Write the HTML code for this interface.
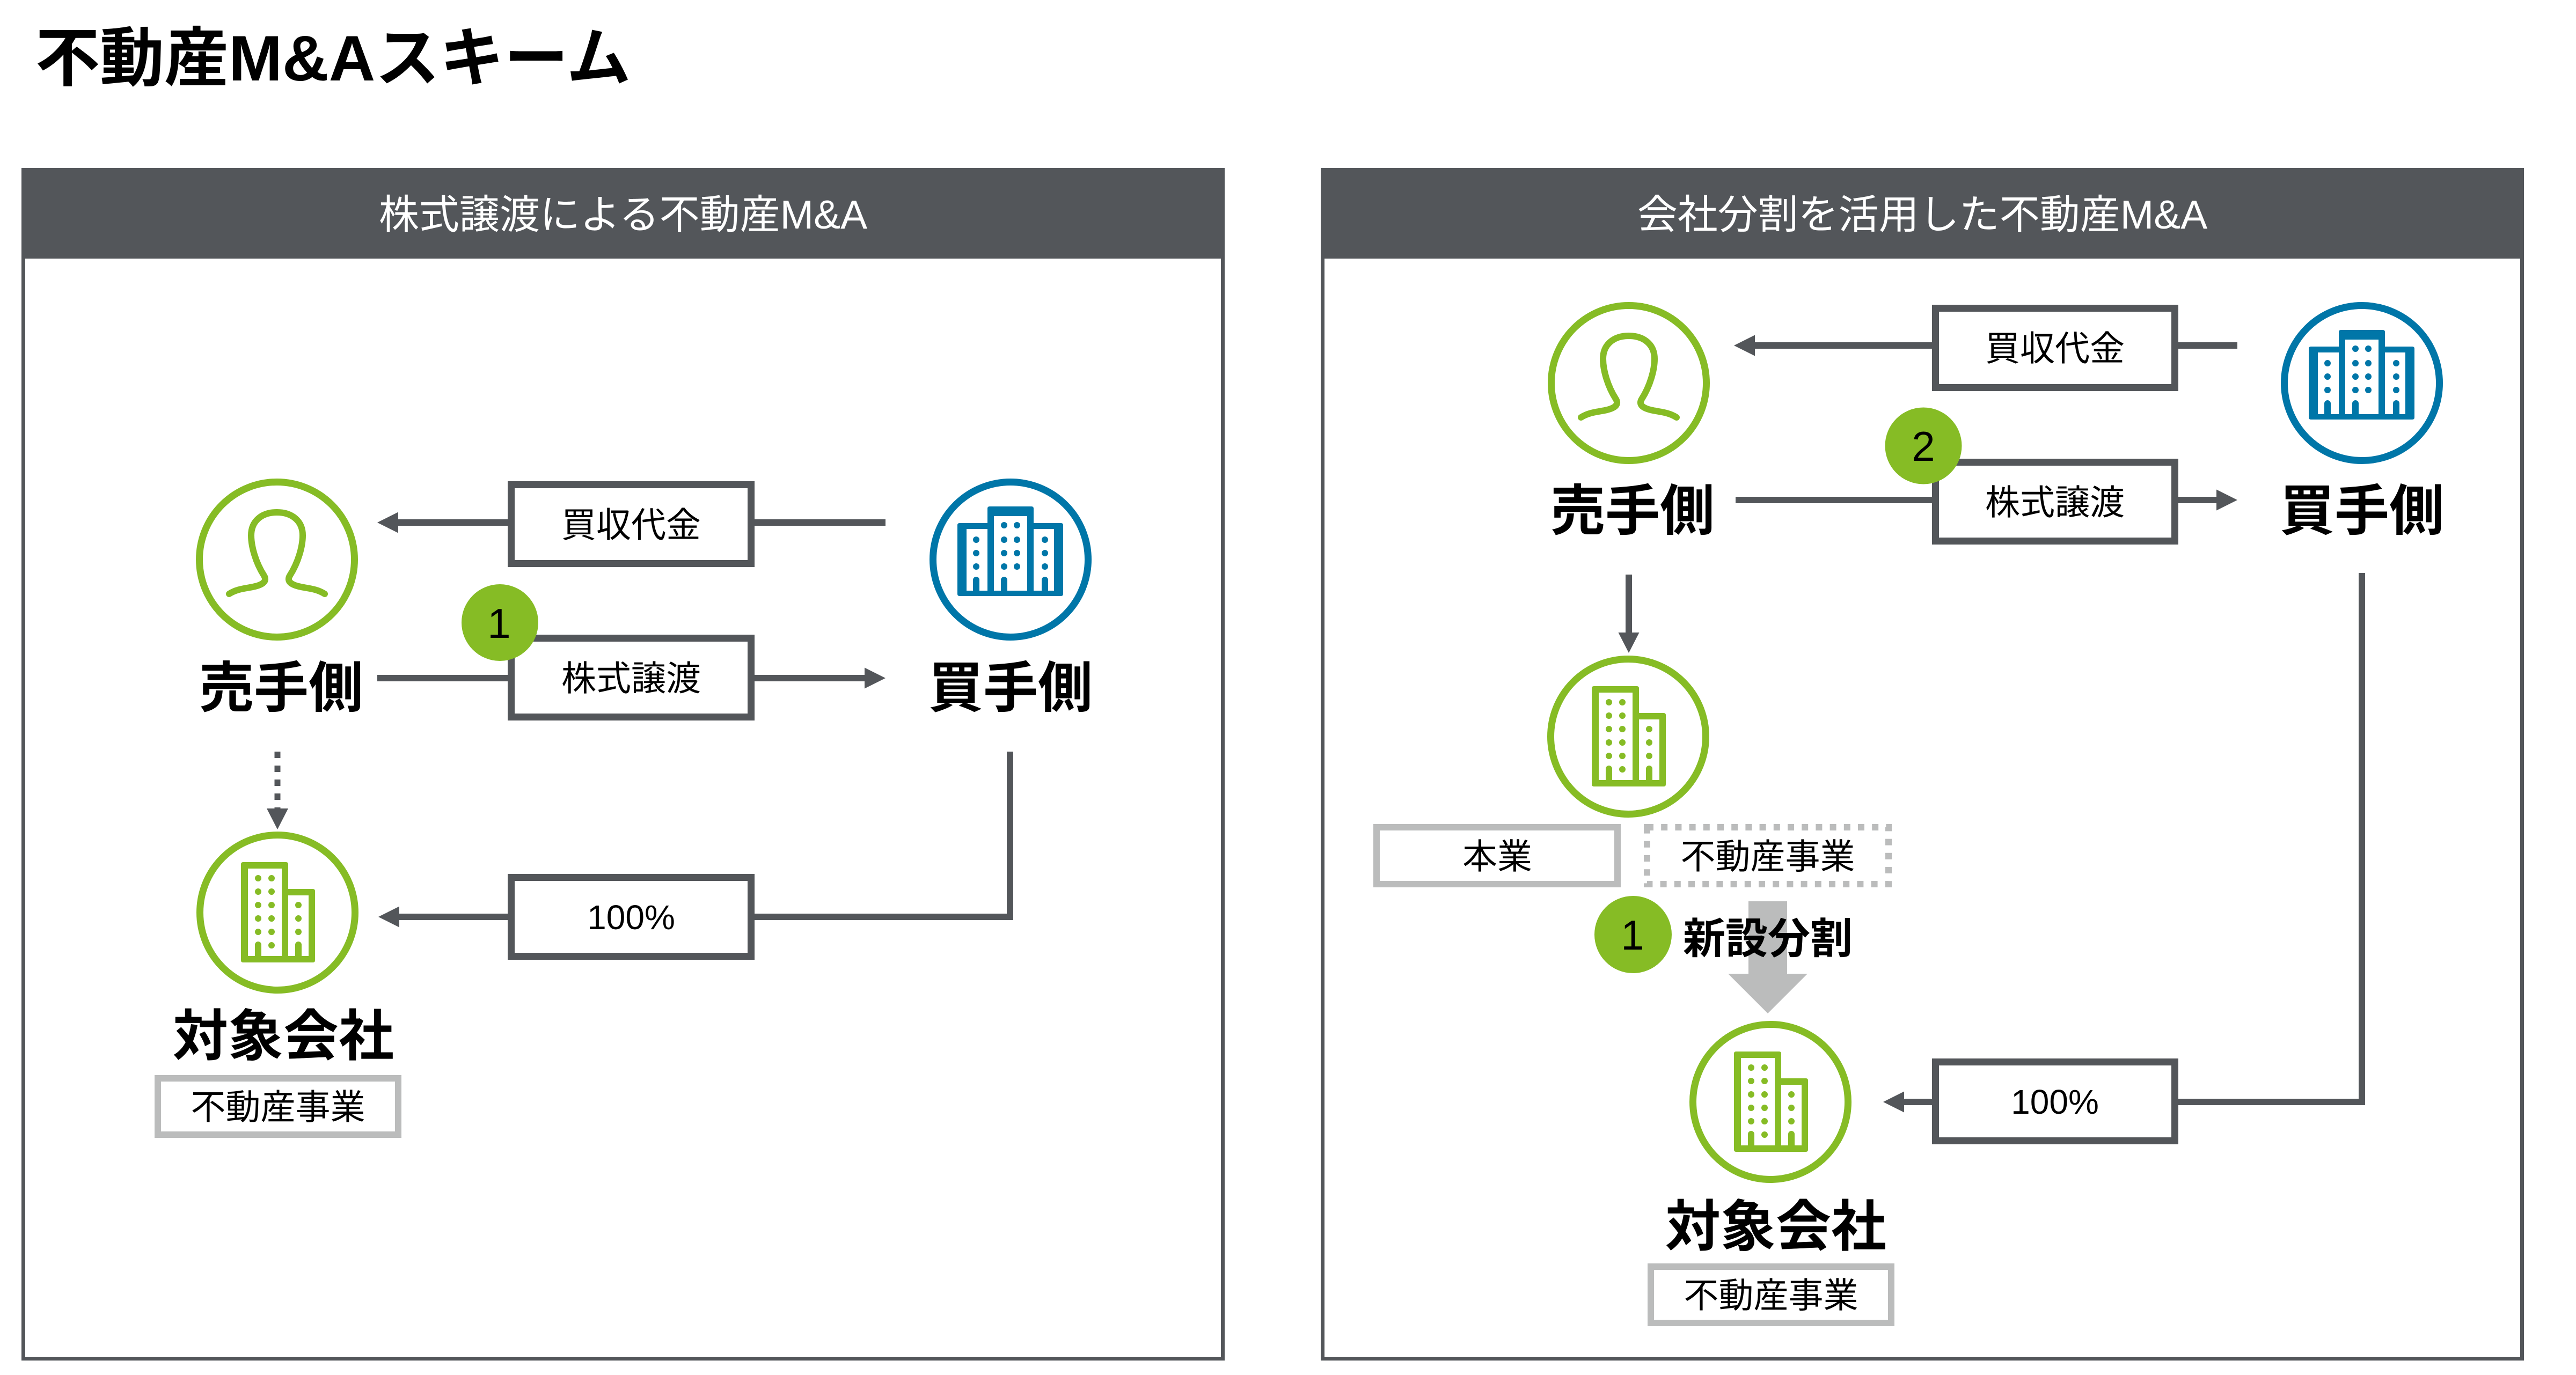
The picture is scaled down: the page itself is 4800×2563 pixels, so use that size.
<!DOCTYPE html>
<html>
<head>
<meta charset="utf-8">
<style>
  html,body{margin:0;padding:0;background:#fff;}
  svg{display:block;}
  text{font-family:"Liberation Sans","Noto Sans CJK JP",sans-serif;}
</style>
</head>
<body>
<svg width="4800" height="2563" viewBox="0 0 4800 2563" xmlns="http://www.w3.org/2000/svg">
  <defs>
    <g id="person">
      <path d="M-89 64 C-75 55,-60 54,-45 51 C-25 47,-18 40,-24 30 C-40 5,-48 -25,-48 -45 C-48 -72,-28 -88,0 -88 C28 -88,48 -72,48 -45 C48 -25,40 5,24 30 C18 40,25 47,45 51 C60 54,75 55,89 64" fill="none" stroke="#86bc25" stroke-width="12" stroke-linecap="round" stroke-linejoin="round"/>
    </g>
    <g id="bbld">
      <path fill="#0076a8" d="M-95 -68 H-43 V-95 Q-43 -99 -39 -99 H39 Q43 -99 43 -95 V-68 H94 Q98 -68 98 -64 V64 Q98 68 94 68 H-95 Q-99 68 -99 64 V-64 Q-99 -68 -95 -68 Z"/>
      <rect x="-82" y="-57" width="39" height="115" fill="#fff"/>
      <rect x="-31" y="-81" width="62" height="139" fill="#fff"/>
      <rect x="43" y="-57" width="38" height="115" fill="#fff"/>
      <g fill="#0076a8">
        <circle cx="-12" cy="-64" r="6"/><circle cx="12" cy="-64" r="6"/>
        <circle cx="-12" cy="-37" r="6"/><circle cx="12" cy="-37" r="6"/>
        <circle cx="-12" cy="-12" r="6"/><circle cx="12" cy="-12" r="6"/>
        <circle cx="-12" cy="13" r="6"/><circle cx="12" cy="13" r="6"/>
        <circle cx="-64" cy="-37" r="6"/><circle cx="-64" cy="-12" r="6"/><circle cx="-64" cy="13" r="6"/>
        <circle cx="64" cy="-37" r="6"/><circle cx="64" cy="-12" r="6"/><circle cx="64" cy="13" r="6"/>
        <path d="M-70 58 V38 a6 6 0 0 1 12 0 V58 Z"/>
        <path d="M-18 58 V38 a6 6 0 0 1 12 0 V58 Z"/>
        <path d="M58 58 V38 a6 6 0 0 1 12 0 V58 Z"/>
      </g>
    </g>
    <g id="gbld">
      <path fill="#86bc25" d="M-64 -94 H16 Q20 -94 20 -90 V-44 H66 Q70 -44 70 -40 V89 Q70 93 66 93 H-64 Q-68 93 -68 89 V-90 Q-68 -94 -64 -94 Z"/>
      <rect x="-55" y="-82" width="63" height="163" fill="#fff"/>
      <rect x="20" y="-32" width="38" height="113" fill="#fff"/>
      <g fill="#86bc25">
        <circle cx="-36" cy="-64" r="6"/><circle cx="-11" cy="-64" r="6"/>
        <circle cx="-36" cy="-39" r="6"/><circle cx="-11" cy="-39" r="6"/>
        <circle cx="-36" cy="-14" r="6"/><circle cx="-11" cy="-14" r="6"/>
        <circle cx="-36" cy="11" r="6"/><circle cx="-11" cy="11" r="6"/>
        <circle cx="-36" cy="36" r="6"/><circle cx="-11" cy="36" r="6"/>
        <circle cx="-11" cy="61" r="6"/>
        <circle cx="39" cy="-14" r="6"/><circle cx="39" cy="11" r="6"/><circle cx="39" cy="36" r="6"/>
        <path d="M-42 81 V60 a6 6 0 0 1 12 0 V81 Z"/>
        <path d="M33 81 V60 a6 6 0 0 1 12 0 V81 Z"/>
      </g>
    </g>
  </defs>

  <!-- Title -->
  <text x="66" y="150" font-size="120" font-weight="700" fill="#000">不動産M&amp;Aスキーム</text>

  <!-- ================= LEFT PANEL ================= -->
  <rect x="43.5" y="316.5" width="2235" height="2216" fill="none" stroke="#53565a" stroke-width="7"/>
  <rect x="40" y="313" width="2242" height="169" fill="#53565a"/>
  <text x="1161" y="426" font-size="75" fill="#fff" text-anchor="middle">株式譲渡による不動産M&amp;A</text>

  <!-- seller -->
  <circle cx="516" cy="1043" r="144.5" fill="#fff" stroke="#86bc25" stroke-width="13"/>
  <use href="#person" transform="translate(516,1043)"/>
  <text x="524" y="1318" font-size="102" font-weight="700" fill="#000" text-anchor="middle">売手側</text>

  <!-- buyer -->
  <circle cx="1883" cy="1043" r="144.5" fill="#fff" stroke="#0076a8" stroke-width="13"/>
  <use href="#bbld" transform="translate(1883,1043)"/>
  <text x="1883" y="1318" font-size="102" font-weight="700" fill="#000" text-anchor="middle">買手側</text>

  <!-- row 1 -->
  <line x1="740" y1="974" x2="946" y2="974" stroke="#53565a" stroke-width="12"/>
  <polygon points="703,974 742,954.5 742,993.5" fill="#53565a"/>
  <line x1="1406" y1="974" x2="1650" y2="974" stroke="#53565a" stroke-width="12"/>
  <rect x="952.5" y="903.5" width="447" height="147" fill="#fff" stroke="#53565a" stroke-width="13"/>
  <text x="1176" y="1001" font-size="65" fill="#000" text-anchor="middle">買収代金</text>

  <!-- row 2 -->
  <line x1="703" y1="1264" x2="946" y2="1264" stroke="#53565a" stroke-width="12"/>
  <line x1="1406" y1="1264" x2="1613" y2="1264" stroke="#53565a" stroke-width="12"/>
  <polygon points="1650,1264 1611,1244.5 1611,1283.5" fill="#53565a"/>
  <rect x="952.5" y="1189.5" width="447" height="147" fill="#fff" stroke="#53565a" stroke-width="13"/>
  <text x="1176" y="1287" font-size="65" fill="#000" text-anchor="middle">株式譲渡</text>
  <circle cx="931.5" cy="1160.5" r="71.5" fill="#86bc25"/>
  <text x="930" y="1189" font-size="78" fill="#000" text-anchor="middle">1</text>

  <!-- dashed arrow -->
  <line x1="517" y1="1401" x2="517" y2="1507" stroke="#53565a" stroke-width="11" stroke-dasharray="12 14"/>
  <polygon points="517,1546 497,1507 537,1507" fill="#53565a"/>

  <!-- buyer to target -->
  <path d="M1882 1401 V1709 H1406" fill="none" stroke="#53565a" stroke-width="12" stroke-linejoin="miter"/>
  <line x1="742" y1="1709" x2="946" y2="1709" stroke="#53565a" stroke-width="12"/>
  <polygon points="705,1709 744,1689.5 744,1728.5" fill="#53565a"/>
  <rect x="952.5" y="1635.5" width="447" height="147" fill="#fff" stroke="#53565a" stroke-width="13"/>
  <text x="1176" y="1732" font-size="64" fill="#000" text-anchor="middle">100%</text>

  <!-- target -->
  <circle cx="517" cy="1701" r="144.5" fill="#fff" stroke="#86bc25" stroke-width="13"/>
  <use href="#gbld" transform="translate(517,1701)"/>
  <text x="528" y="1967" font-size="103" font-weight="700" fill="#000" text-anchor="middle">対象会社</text>
  <rect x="294" y="2010" width="448" height="105" fill="#fff" stroke="#bbbcbc" stroke-width="12"/>
  <text x="518" y="2086" font-size="65" fill="#000" text-anchor="middle">不動産事業</text>

  <!-- ================= RIGHT PANEL ================= -->
  <rect x="2464.5" y="316.5" width="2235" height="2216" fill="none" stroke="#53565a" stroke-width="7"/>
  <rect x="2461" y="313" width="2242" height="169" fill="#53565a"/>
  <text x="3582" y="426" font-size="75" fill="#fff" text-anchor="middle">会社分割を活用した不動産M&amp;A</text>

  <!-- seller -->
  <circle cx="3035" cy="714" r="144.5" fill="#fff" stroke="#86bc25" stroke-width="13"/>
  <use href="#person" transform="translate(3035,714)"/>
  <text x="3042" y="988" font-size="102" font-weight="700" fill="#000" text-anchor="middle">売手側</text>

  <!-- buyer -->
  <circle cx="4401" cy="714" r="144.5" fill="#fff" stroke="#0076a8" stroke-width="13"/>
  <use href="#bbld" transform="translate(4401,714)"/>
  <text x="4401" y="988" font-size="102" font-weight="700" fill="#000" text-anchor="middle">買手側</text>

  <!-- row 1 -->
  <line x1="3268" y1="644" x2="3600" y2="644" stroke="#53565a" stroke-width="12"/>
  <polygon points="3231,644 3270,624.5 3270,663.5" fill="#53565a"/>
  <line x1="4059" y1="644" x2="4169" y2="644" stroke="#53565a" stroke-width="12"/>
  <rect x="3606.5" y="574.5" width="446" height="148" fill="#fff" stroke="#53565a" stroke-width="13"/>
  <text x="3829" y="672" font-size="65" fill="#000" text-anchor="middle">買収代金</text>

  <!-- row 2 -->
  <line x1="3234" y1="932" x2="3600" y2="932" stroke="#53565a" stroke-width="12"/>
  <line x1="4059" y1="932" x2="4132" y2="932" stroke="#53565a" stroke-width="12"/>
  <polygon points="4169,932 4130,912.5 4130,951.5" fill="#53565a"/>
  <rect x="3606.5" y="861.5" width="446" height="147" fill="#fff" stroke="#53565a" stroke-width="13"/>
  <text x="3829" y="959" font-size="65" fill="#000" text-anchor="middle">株式譲渡</text>
  <circle cx="3584" cy="831" r="71.5" fill="#86bc25"/>
  <text x="3584" y="859" font-size="78" fill="#000" text-anchor="middle">2</text>

  <!-- seller down arrow -->
  <line x1="3035" y1="1071" x2="3035" y2="1182" stroke="#53565a" stroke-width="12"/>
  <polygon points="3035,1217 3015.5,1179 3054.5,1179" fill="#53565a"/>

  <!-- source company -->
  <circle cx="3034" cy="1373" r="144.5" fill="#fff" stroke="#86bc25" stroke-width="13"/>
  <use href="#gbld" transform="translate(3034,1373)"/>

  <rect x="2565" y="1542" width="449" height="106" fill="#fff" stroke="#bbbcbc" stroke-width="12"/>
  <text x="2790" y="1619" font-size="65" fill="#000" text-anchor="middle">本業</text>
  <rect x="3069" y="1542" width="450" height="106" fill="#fff" stroke="#bbbcbc" stroke-width="12" stroke-dasharray="12 14.2"/>
  <text x="3294" y="1619" font-size="65" fill="#000" text-anchor="middle">不動産事業</text>

  <!-- split arrow -->
  <polygon points="3258,1680 3330,1680 3330,1815 3368,1815 3294,1889 3220,1815 3258,1815" fill="#bbbcbc"/>
  <circle cx="3043" cy="1742" r="72" fill="#86bc25"/>
  <text x="3042" y="1770" font-size="78" fill="#000" text-anchor="middle">1</text>
  <text x="3136" y="1777" font-size="79" font-weight="700" fill="#000">新設分割</text>

  <!-- buyer to target -->
  <path d="M4401 1068 V2054 H4059" fill="none" stroke="#53565a" stroke-width="12" stroke-linejoin="miter"/>
  <line x1="3546" y1="2054" x2="3600" y2="2054" stroke="#53565a" stroke-width="12"/>
  <polygon points="3509,2054 3548,2034.5 3548,2073.5" fill="#53565a"/>
  <rect x="3606.5" y="1979.5" width="446" height="147" fill="#fff" stroke="#53565a" stroke-width="13"/>
  <text x="3829" y="2076" font-size="64" fill="#000" text-anchor="middle">100%</text>

  <!-- target -->
  <circle cx="3299" cy="2054" r="144.5" fill="#fff" stroke="#86bc25" stroke-width="13"/>
  <use href="#gbld" transform="translate(3299,2054)"/>
  <text x="3309" y="2322" font-size="103" font-weight="700" fill="#000" text-anchor="middle">対象会社</text>
  <rect x="3076" y="2361" width="448" height="105" fill="#fff" stroke="#bbbcbc" stroke-width="12"/>
  <text x="3300" y="2437" font-size="65" fill="#000" text-anchor="middle">不動産事業</text>
</svg>
</body>
</html>
